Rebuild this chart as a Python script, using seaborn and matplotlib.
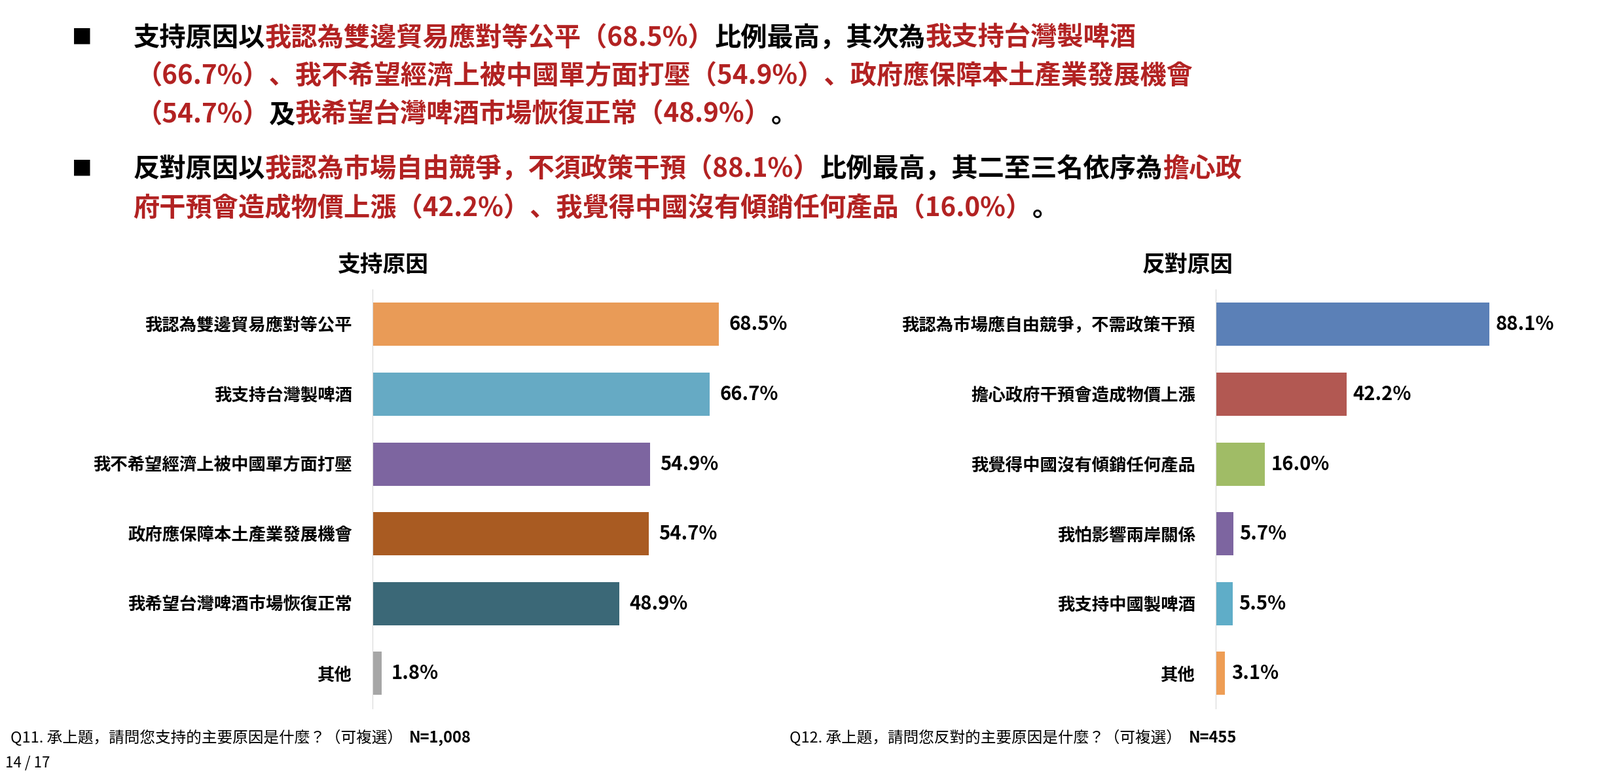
import matplotlib
matplotlib.use('Agg')
import matplotlib.pyplot as plt
import seaborn as sns
import pandas as pd

plt.rcParams['font.family'] = ['Noto Sans CJK TC', 'Noto Sans CJK JP', 'Noto Sans CJK SC', 'DejaVu Sans']

# data
support_labels = ['我認為雙邊貿易應對等公平', '我支持台灣製啤酒', '我不希望經濟上被中國單方面打壓',
                  '政府應保障本土產業發展機會', '我希望台灣啤酒市場恢復正常', '其他']
support_values = [68.5, 66.7, 54.9, 54.7, 48.9, 1.8]
support_colors = ['#E99B57', '#66AAC4', '#7D65A0', '#A95B22', '#3B6877', '#A6A6A6']

oppose_labels = ['我認為市場應自由競爭，不需政策干預', '擔心政府干預會造成物價上漲', '我覺得中國沒有傾銷任何產品',
                 '我怕影響兩岸關係', '我支持中國製啤酒', '其他']
oppose_values = [88.1, 42.2, 16.0, 5.7, 5.5, 3.1]
oppose_colors = ['#5B80B7', '#B25852', '#A0BC66', '#7D65A0', '#5FADC8', '#EE9D55']

RED = '#B22222'
headline = [
    [('支持原因以', 'k'), ('我認為雙邊貿易應對等公平（68.5%）', RED), ('比例最高，其次為', 'k'), ('我支持台灣製啤酒', RED)],
    [('（66.7%）、我不希望經濟上被中國單方面打壓（54.9%）、政府應保障本土產業發展機會', RED)],
    [('（54.7%）', RED), ('及', 'k'), ('我希望台灣啤酒市場恢復正常（48.9%）', RED), ('。', 'k')],
    [('反對原因以', 'k'), ('我認為市場自由競爭，不須政策干預（88.1%）', RED), ('比例最高，其二至三名依序為', 'k'), ('擔心政', RED)],
    [('府干預會造成物價上漲（42.2%）、我覺得中國沒有傾銷任何產品（16.0%）', RED), ('。', 'k')],
]

W, H = 1560, 754  # layout reference units
fig = plt.figure(figsize=(24.44, 11.82), dpi=100)


def fx(x):
    return x / W


def fy(y):
    return 1 - y / H


def rich_line(x, y, pieces, size=29, weight='bold'):
    renderer = fig.canvas.get_renderer()
    cur = fx(x)
    for txt, col, w in pieces:
        t = fig.text(cur, fy(y), txt, color=col, fontsize=size, fontweight=w, va='center', ha='left')
        bb = t.get_window_extent(renderer=renderer).transformed(fig.transFigure.inverted())
        cur = bb.x1


line_y = [37, 75, 112, 165, 203]
for i, (ly, pieces) in enumerate(zip(line_y, headline)):
    x0 = 130 if i in (0, 3, 4) else 132
    rich_line(x0, ly, [(t, c, 'bold') for t, c in pieces])
fig.text(fx(70), fy(37), '■', fontsize=22, va='center')
fig.text(fx(70), fy(165), '■', fontsize=22, va='center')


def panel(left, scale, labels, values, colors, title, title_x):
    width = 100 * scale
    ax = fig.add_axes([fx(left), fy(690), fx(width), (690 - 282) / H])
    df = pd.DataFrame({'label': labels, 'value': values})
    sns.barplot(data=df, x='value', y='label', hue='label', palette=colors, legend=False,
                width=0.62, saturation=1, ax=ax, orient='h')
    ax.set_xlim(0, 100)
    ax.set_xlabel('')
    ax.set_ylabel('')
    ax.set_xticks([])
    for s in ['top', 'right', 'bottom']:
        ax.spines[s].set_visible(False)
    ax.spines['left'].set_color('#D9D9D9')
    ax.tick_params(axis='y', length=0, labelsize=19, pad=22)
    for lab in ax.get_yticklabels():
        lab.set_fontweight('bold')
    for i, v in enumerate(values):
        ax.text(v + 2, i, f'{v:.1f}%', va='center', ha='left', fontsize=21, fontweight='bold')
    fig.text(fx(title_x), fy(258), title, fontsize=25, fontweight='bold', ha='center', va='center')


panel(363, 4.93, support_labels, support_values, support_colors, '支持原因', 373)
panel(1185, 3.03, oppose_labels, oppose_values, oppose_colors, '反對原因', 1158)

rich_line(10, 719, [('Q11. 承上題，請問您支持的主要原因是什麼？（可複選）  ', 'k', 'normal'),
                    ('N=1,008', 'k', 'bold')], size=17)
rich_line(770, 719, [('Q12. 承上題，請問您反對的主要原因是什麼？（可複選）  ', 'k', 'normal'),
                     ('N=455', 'k', 'bold')], size=17)
fig.text(fx(5), fy(743), '14 / 17', fontsize=16, va='center')

fig.savefig('out.png', dpi=100)
